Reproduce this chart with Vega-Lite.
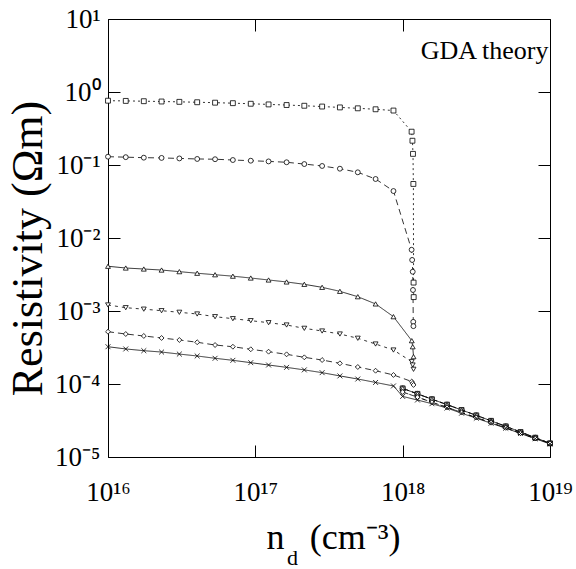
{
  "$schema": "https://vega.github.io/schema/vega-lite/v6.json",
  "autosize": "none",
  "width": 442,
  "height": 438,
  "padding": {"left": 108, "top": 19, "right": 26, "bottom": 112},
  "background": "white",
  "config": {
    "view": {"stroke": "black", "strokeWidth": 1},
    "font": "Liberation Serif",
    "axis": {"grid": false, "domain": false, "tickColor": "black", "tickWidth": 1, "labelColor": "black", "titleColor": "black", "titleFontWeight": "normal", "labelFont": "Liberation Serif", "titleFont": "Liberation Serif"}
  },
  "data": {"values": [
    {"series":"square","branch":"a","n":1e16,"rho":0.76},
    {"series":"square","branch":"a","n":1.32e16,"rho":0.755},
    {"series":"square","branch":"a","n":1.75e16,"rho":0.748},
    {"series":"square","branch":"a","n":2.31e16,"rho":0.741},
    {"series":"square","branch":"a","n":3.05e16,"rho":0.733},
    {"series":"square","branch":"a","n":4.03e16,"rho":0.724},
    {"series":"square","branch":"a","n":5.33e16,"rho":0.714},
    {"series":"square","branch":"a","n":7.04e16,"rho":0.703},
    {"series":"square","branch":"a","n":9.31e16,"rho":0.69},
    {"series":"square","branch":"a","n":1.23e17,"rho":0.676},
    {"series":"square","branch":"a","n":1.63e17,"rho":0.663},
    {"series":"square","branch":"a","n":2.15e17,"rho":0.648},
    {"series":"square","branch":"a","n":2.84e17,"rho":0.632},
    {"series":"square","branch":"a","n":3.75e17,"rho":0.615},
    {"series":"square","branch":"a","n":4.96e17,"rho":0.598},
    {"series":"square","branch":"a","n":6.55e17,"rho":0.58},
    {"series":"square","branch":"a","n":8.66e17,"rho":0.557},
    {"series":"square","branch":"a","n":1.15e18,"rho":0.286},
    {"series":"square","branch":"a","n":1.165e18,"rho":0.215},
    {"series":"square","branch":"a","n":1.175e18,"rho":0.142},
    {"series":"square","branch":"a","n":1.182e18,"rho":0.055},
    {"series":"square","branch":"a","n":1.186e18,"rho":0.00245},
    {"series":"square","branch":"a","n":1.188e18,"rho":0.00155},
    {"series":"square","branch":"b","n":1e18,"rho":8.71e-5},
    {"series":"square","branch":"b","n":1.26e18,"rho":7.33e-5},
    {"series":"square","branch":"b","n":1.58e18,"rho":6.19e-5},
    {"series":"square","branch":"b","n":2e18,"rho":5.22e-5},
    {"series":"square","branch":"b","n":2.51e18,"rho":4.41e-5},
    {"series":"square","branch":"b","n":3.16e18,"rho":3.72e-5},
    {"series":"square","branch":"b","n":3.98e18,"rho":3.13e-5},
    {"series":"square","branch":"b","n":5.01e18,"rho":2.63e-5},
    {"series":"square","branch":"b","n":6.31e18,"rho":2.2e-5},
    {"series":"square","branch":"b","n":7.94e18,"rho":1.84e-5},
    {"series":"square","branch":"b","n":1e19,"rho":1.54e-5},

    {"series":"circle","branch":"a","n":1e16,"rho":0.13},
    {"series":"circle","branch":"a","n":1.32e16,"rho":0.128},
    {"series":"circle","branch":"a","n":1.75e16,"rho":0.126},
    {"series":"circle","branch":"a","n":2.31e16,"rho":0.125},
    {"series":"circle","branch":"a","n":3.05e16,"rho":0.123},
    {"series":"circle","branch":"a","n":4.03e16,"rho":0.121},
    {"series":"circle","branch":"a","n":5.33e16,"rho":0.12},
    {"series":"circle","branch":"a","n":7.04e16,"rho":0.117},
    {"series":"circle","branch":"a","n":9.31e16,"rho":0.1145},
    {"series":"circle","branch":"a","n":1.23e17,"rho":0.112},
    {"series":"circle","branch":"a","n":1.63e17,"rho":0.109},
    {"series":"circle","branch":"a","n":2.15e17,"rho":0.103},
    {"series":"circle","branch":"a","n":2.84e17,"rho":0.097},
    {"series":"circle","branch":"a","n":3.75e17,"rho":0.089},
    {"series":"circle","branch":"a","n":4.96e17,"rho":0.0794},
    {"series":"circle","branch":"a","n":6.55e17,"rho":0.0643},
    {"series":"circle","branch":"a","n":8.66e17,"rho":0.044},
    {"series":"circle","branch":"a","n":1.15e18,"rho":0.0069},
    {"series":"circle","branch":"a","n":1.16e18,"rho":0.005},
    {"series":"circle","branch":"a","n":1.17e18,"rho":0.00345},
    {"series":"circle","branch":"a","n":1.175e18,"rho":0.00194},
    {"series":"circle","branch":"a","n":1.18e18,"rho":0.00071},
    {"series":"circle","branch":"a","n":1.183e18,"rho":0.00062},
    {"series":"circle","branch":"b","n":1e18,"rho":8.71e-5},
    {"series":"circle","branch":"b","n":1.26e18,"rho":7.33e-5},
    {"series":"circle","branch":"b","n":1.58e18,"rho":6.19e-5},
    {"series":"circle","branch":"b","n":2e18,"rho":5.22e-5},
    {"series":"circle","branch":"b","n":2.51e18,"rho":4.41e-5},
    {"series":"circle","branch":"b","n":3.16e18,"rho":3.72e-5},
    {"series":"circle","branch":"b","n":3.98e18,"rho":3.13e-5},
    {"series":"circle","branch":"b","n":5.01e18,"rho":2.63e-5},
    {"series":"circle","branch":"b","n":6.31e18,"rho":2.2e-5},
    {"series":"circle","branch":"b","n":7.94e18,"rho":1.84e-5},
    {"series":"circle","branch":"b","n":1e19,"rho":1.54e-5},

    {"series":"up","branch":"a","n":1e16,"rho":0.0041},
    {"series":"up","branch":"a","n":1.32e16,"rho":0.00388},
    {"series":"up","branch":"a","n":1.75e16,"rho":0.00376},
    {"series":"up","branch":"a","n":2.31e16,"rho":0.00364},
    {"series":"up","branch":"a","n":3.05e16,"rho":0.00346},
    {"series":"up","branch":"a","n":4.03e16,"rho":0.00329},
    {"series":"up","branch":"a","n":5.33e16,"rho":0.00314},
    {"series":"up","branch":"a","n":7.04e16,"rho":0.003},
    {"series":"up","branch":"a","n":9.31e16,"rho":0.00283},
    {"series":"up","branch":"a","n":1.23e17,"rho":0.00266},
    {"series":"up","branch":"a","n":1.63e17,"rho":0.0025},
    {"series":"up","branch":"a","n":2.15e17,"rho":0.00232},
    {"series":"up","branch":"a","n":2.84e17,"rho":0.00211},
    {"series":"up","branch":"a","n":3.75e17,"rho":0.00186},
    {"series":"up","branch":"a","n":4.96e17,"rho":0.00157},
    {"series":"up","branch":"a","n":6.55e17,"rho":0.00125},
    {"series":"up","branch":"a","n":8.66e17,"rho":0.000836},
    {"series":"up","branch":"a","n":1.153e18,"rho":0.000392},
    {"series":"up","branch":"a","n":1.17e18,"rho":0.000324},
    {"series":"up","branch":"a","n":1.185e18,"rho":0.000237},
    {"series":"up","branch":"b","n":1e18,"rho":8.71e-5},
    {"series":"up","branch":"b","n":1.26e18,"rho":7.33e-5},
    {"series":"up","branch":"b","n":1.58e18,"rho":6.19e-5},
    {"series":"up","branch":"b","n":2e18,"rho":5.22e-5},
    {"series":"up","branch":"b","n":2.51e18,"rho":4.41e-5},
    {"series":"up","branch":"b","n":3.16e18,"rho":3.72e-5},
    {"series":"up","branch":"b","n":3.98e18,"rho":3.13e-5},
    {"series":"up","branch":"b","n":5.01e18,"rho":2.63e-5},
    {"series":"up","branch":"b","n":6.31e18,"rho":2.2e-5},
    {"series":"up","branch":"b","n":7.94e18,"rho":1.84e-5},
    {"series":"up","branch":"b","n":1e19,"rho":1.54e-5},

    {"series":"down","branch":"a","n":1e16,"rho":0.00121},
    {"series":"down","branch":"a","n":1.32e16,"rho":0.00111},
    {"series":"down","branch":"a","n":1.75e16,"rho":0.00106},
    {"series":"down","branch":"a","n":2.31e16,"rho":0.00101},
    {"series":"down","branch":"a","n":3.05e16,"rho":0.00096},
    {"series":"down","branch":"a","n":4.03e16,"rho":0.00091},
    {"series":"down","branch":"a","n":5.33e16,"rho":0.000836},
    {"series":"down","branch":"a","n":7.04e16,"rho":0.000785},
    {"series":"down","branch":"a","n":9.31e16,"rho":0.000737},
    {"series":"down","branch":"a","n":1.23e17,"rho":0.000692},
    {"series":"down","branch":"a","n":1.63e17,"rho":0.000643},
    {"series":"down","branch":"a","n":2.15e17,"rho":0.000579},
    {"series":"down","branch":"a","n":2.84e17,"rho":0.000532},
    {"series":"down","branch":"a","n":3.75e17,"rho":0.000484},
    {"series":"down","branch":"a","n":4.96e17,"rho":0.000423},
    {"series":"down","branch":"a","n":6.55e17,"rho":0.000353},
    {"series":"down","branch":"a","n":8.66e17,"rho":0.000292},
    {"series":"down","branch":"a","n":1.153e18,"rho":0.000202},
    {"series":"down","branch":"a","n":1.17e18,"rho":0.000182},
    {"series":"down","branch":"a","n":1.185e18,"rho":0.000159},
    {"series":"down","branch":"b","n":1e18,"rho":7.76e-5},
    {"series":"down","branch":"b","n":1.26e18,"rho":6.61e-5},
    {"series":"down","branch":"b","n":1.58e18,"rho":5.62e-5},
    {"series":"down","branch":"b","n":2e18,"rho":4.79e-5},
    {"series":"down","branch":"b","n":2.51e18,"rho":4.07e-5},
    {"series":"down","branch":"b","n":3.16e18,"rho":3.47e-5},
    {"series":"down","branch":"b","n":3.98e18,"rho":2.95e-5},
    {"series":"down","branch":"b","n":5.01e18,"rho":2.51e-5},
    {"series":"down","branch":"b","n":6.31e18,"rho":2.11e-5},
    {"series":"down","branch":"b","n":7.94e18,"rho":1.8e-5},
    {"series":"down","branch":"b","n":1e19,"rho":1.53e-5},

    {"series":"diamond","branch":"a","n":1e16,"rho":0.00052},
    {"series":"diamond","branch":"a","n":1.32e16,"rho":0.000484},
    {"series":"diamond","branch":"a","n":1.75e16,"rho":0.000455},
    {"series":"diamond","branch":"a","n":2.31e16,"rho":0.000427},
    {"series":"diamond","branch":"a","n":3.05e16,"rho":0.000401},
    {"series":"diamond","branch":"a","n":4.03e16,"rho":0.000373},
    {"series":"diamond","branch":"a","n":5.33e16,"rho":0.000342},
    {"series":"diamond","branch":"a","n":7.04e16,"rho":0.000324},
    {"series":"diamond","branch":"a","n":9.31e16,"rho":0.000299},
    {"series":"diamond","branch":"a","n":1.23e17,"rho":0.000277},
    {"series":"diamond","branch":"a","n":1.63e17,"rho":0.000255},
    {"series":"diamond","branch":"a","n":2.15e17,"rho":0.000232},
    {"series":"diamond","branch":"a","n":2.84e17,"rho":0.000213},
    {"series":"diamond","branch":"a","n":3.75e17,"rho":0.000192},
    {"series":"diamond","branch":"a","n":4.96e17,"rho":0.000171},
    {"series":"diamond","branch":"a","n":6.55e17,"rho":0.000152},
    {"series":"diamond","branch":"a","n":8.66e17,"rho":0.000133},
    {"series":"diamond","branch":"a","n":1.153e18,"rho":0.000108},
    {"series":"diamond","branch":"a","n":1.17e18,"rho":0.000102},
    {"series":"diamond","branch":"a","n":1.185e18,"rho":0.000097},
    {"series":"diamond","branch":"b","n":1e18,"rho":7.76e-5},
    {"series":"diamond","branch":"b","n":1.26e18,"rho":6.61e-5},
    {"series":"diamond","branch":"b","n":1.58e18,"rho":5.62e-5},
    {"series":"diamond","branch":"b","n":2e18,"rho":4.79e-5},
    {"series":"diamond","branch":"b","n":2.51e18,"rho":4.07e-5},
    {"series":"diamond","branch":"b","n":3.16e18,"rho":3.47e-5},
    {"series":"diamond","branch":"b","n":3.98e18,"rho":2.95e-5},
    {"series":"diamond","branch":"b","n":5.01e18,"rho":2.51e-5},
    {"series":"diamond","branch":"b","n":6.31e18,"rho":2.11e-5},
    {"series":"diamond","branch":"b","n":7.94e18,"rho":1.8e-5},
    {"series":"diamond","branch":"b","n":1e19,"rho":1.53e-5},

    {"series":"cross","branch":"a","n":1e16,"rho":0.000324},
    {"series":"cross","branch":"a","n":1.32e16,"rho":0.000302},
    {"series":"cross","branch":"a","n":1.75e16,"rho":0.000286},
    {"series":"cross","branch":"a","n":2.31e16,"rho":0.000274},
    {"series":"cross","branch":"a","n":3.05e16,"rho":0.000257},
    {"series":"cross","branch":"a","n":4.03e16,"rho":0.000242},
    {"series":"cross","branch":"a","n":5.33e16,"rho":0.000225},
    {"series":"cross","branch":"a","n":7.04e16,"rho":0.000211},
    {"series":"cross","branch":"a","n":9.31e16,"rho":0.000196},
    {"series":"cross","branch":"a","n":1.23e17,"rho":0.000182},
    {"series":"cross","branch":"a","n":1.63e17,"rho":0.000169},
    {"series":"cross","branch":"a","n":2.15e17,"rho":0.000156},
    {"series":"cross","branch":"a","n":2.84e17,"rho":0.000143},
    {"series":"cross","branch":"a","n":3.75e17,"rho":0.000129},
    {"series":"cross","branch":"a","n":4.96e17,"rho":0.000117},
    {"series":"cross","branch":"a","n":6.55e17,"rho":0.000105},
    {"series":"cross","branch":"a","n":8.66e17,"rho":0.000094},
    {"series":"cross","branch":"a","n":1e18,"rho":6.76e-5},
    {"series":"cross","branch":"a","n":1.26e18,"rho":6.03e-5},
    {"series":"cross","branch":"a","n":1.58e18,"rho":5.37e-5},
    {"series":"cross","branch":"a","n":2e18,"rho":4.68e-5},
    {"series":"cross","branch":"a","n":2.51e18,"rho":3.98e-5},
    {"series":"cross","branch":"a","n":3.16e18,"rho":3.4e-5},
    {"series":"cross","branch":"a","n":3.98e18,"rho":2.9e-5},
    {"series":"cross","branch":"a","n":5.01e18,"rho":2.48e-5},
    {"series":"cross","branch":"a","n":6.31e18,"rho":2.1e-5},
    {"series":"cross","branch":"a","n":7.94e18,"rho":1.78e-5},
    {"series":"cross","branch":"a","n":1e19,"rho":1.51e-5}
  ]},
  "layer": [
    {
      "mark": {"type": "line", "stroke": "black", "strokeWidth": 0.8},
      "encoding": {
        "x": {"field": "n", "type": "quantitative", "scale": {"type": "log", "domain": [1e16, 1e19]},
          "axis": {"orient": "bottom", "values": [1e16, 1e17, 1e18, 1e19], "tickSize": -12,
            "labelExpr": "'10' + ['\u00b9\u2076','\u00b9\u2077','\u00b9\u2078','\u00b9\u2079'][round(log(datum.value)/LN10) - 16]",
            "labelFontSize": 27, "labelPadding": 34, "labelFlush": false,
            "title": "n\u00a0\u00a0\u2009(cm\u207b\u00b3)", "titleFontSize": 36, "titleAlign": "left", "titleAnchor": null,
            "titleX": 158, "titleY": 91, "titleBaseline": "alphabetic"}},
        "y": {"field": "rho", "type": "quantitative", "scale": {"type": "log", "domain": [1e-5, 10]},
          "axis": {"orient": "left", "values": [1e-5, 1e-4, 1e-3, 1e-2, 1e-1, 1, 10], "tickSize": -12,
            "labelExpr": "'10' + ['\u207b\u2075','\u207b\u2074','\u207b\u00b3','\u207b\u00b2','\u207b\u00b9','\u2070','\u00b9'][round(log(datum.value)/LN10) + 5]",
            "labelFontSize": 27, "labelPadding": 20, "labelFlush": false, "labelBaseline": "middle",
            "title": "Resistivity (\u03a9m)", "titleFontSize": 44, "titleAngle": -90, "titleAlign": "center",
            "titleX": -67, "titleY": 229, "titleBaseline": "alphabetic"}},
        "detail": [{"field": "series"}, {"field": "branch"}],
        "strokeDash": {"field": "series", "type": "nominal", "legend": null,
          "scale": {"domain": ["square", "circle", "up", "down", "diamond", "cross"],
            "range": [[2, 3], [6, 4], [1, 0], [3, 4], [6, 4], [1, 0]]}}
      }
    },
    {
      "mark": {"type": "point", "filled": true, "fill": "white", "stroke": "black", "strokeWidth": 0.8, "size": 24, "opacity": 1},
      "encoding": {
        "x": {"field": "n", "type": "quantitative",
          "axis": {"orient": "top", "values": [1e16, 1e17, 1e18, 1e19], "tickSize": -12, "labels": false,
            "title": "GDA theory", "titleFontSize": 26, "titleAngle": 0, "titleAlign": "right", "titleAnchor": null,
            "titleX": 440, "titleY": 39, "titleBaseline": "alphabetic"}},
        "y": {"field": "rho", "type": "quantitative",
          "axis": {"orient": "right", "values": [1e-5, 1e-4, 1e-3, 1e-2, 1e-1, 1, 10], "tickSize": -12, "labels": false,
            "title": "d", "titleFontSize": 22, "titleAngle": 0, "titleAlign": "center", "titleAnchor": null,
            "titleX": -258, "titleY": 545, "titleBaseline": "alphabetic"}},
        "shape": {"field": "series", "type": "nominal", "legend": null,
          "scale": {"domain": ["square", "circle", "up", "down", "diamond", "cross"],
            "range": ["square", "circle", "triangle-up", "triangle-down", "diamond", "M-1,-1L1,1M-1,1L1,-1"]}}
      }
    }
  ],
  "resolve": {"axis": {"x": "independent", "y": "independent"}}
}
